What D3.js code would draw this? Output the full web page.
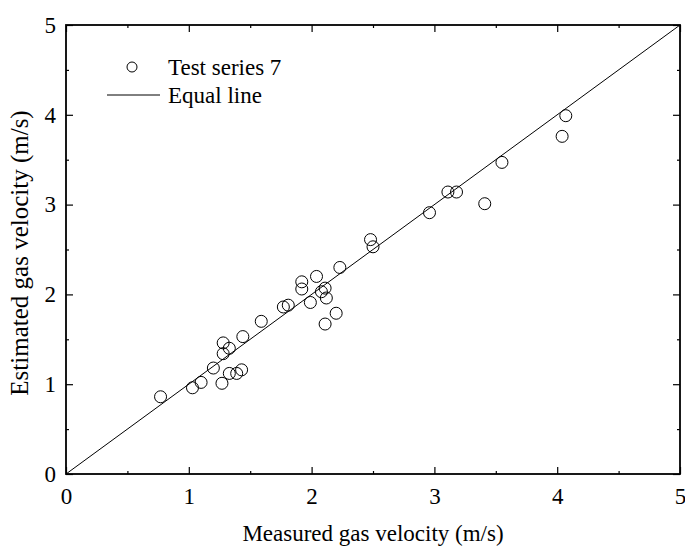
<!DOCTYPE html>
<html lang="en">
<head>
<meta charset="UTF-8">
<title>Measured vs estimated gas velocity</title>
<style>
  body { margin: 0; background: #fff; }
  text { font-family: "Liberation Serif", "Times New Roman", serif; fill: #000; }
</style>
</head>
<body>
<div id="chart"></div>
<script src="https://d3js.org/d3.v7.min.js"></script>
<script>
// data
var measured = [0.77, 1.03, 1.10, 1.20, 1.27, 1.28, 1.28, 1.33, 1.33, 1.39, 1.43, 1.44,
    1.59, 1.77, 1.81, 1.92, 1.92, 1.99, 2.04, 2.08, 2.11, 2.12, 2.20, 2.11, 2.23,
    2.48, 2.50, 2.96, 3.11, 3.18, 3.41, 3.55, 4.04, 4.07];
var estimated = [0.86, 0.96, 1.02, 1.18, 1.01, 1.34, 1.46, 1.40, 1.12, 1.12, 1.16, 1.53,
    1.70, 1.86, 1.88, 2.14, 2.06, 1.91, 2.20, 2.03, 2.07, 1.96, 1.79, 1.67, 2.30,
    2.61, 2.53, 2.91, 3.14, 3.14, 3.01, 3.47, 3.76, 3.99];
var equalLine = [0, 5];
var tickValues = [0, 1, 2, 3, 4, 5];
var minorTicks = [0.5, 1.5, 2.5, 3.5, 4.5];
var seriesName = "Test series 7";
var lineName = "Equal line";

var W = 685, H = 548;
var margin = {top: 25, right: 5, bottom: 74, left: 66};
var w = W - margin.left - margin.right, h = H - margin.top - margin.bottom;
var fs = "23px";

var svg = d3.select("#chart").append("svg")
    .attr("width", W).attr("height", H);
var g = svg.append("g")
    .attr("transform", "translate(" + margin.left + "," + margin.top + ")");

var x = d3.scaleLinear().domain([0, 5]).range([0, w]);
var y = d3.scaleLinear().domain([0, 5]).range([h, 0]);

// axes, ticks pointing inward
function styleAxis(sel, showLabels) {
    sel.select(".domain").remove();
    sel.selectAll("line").attr("stroke", "#000").attr("stroke-width", 1.2);
    sel.selectAll("text").style("font-size", fs);
    if (!showLabels) sel.selectAll("text").remove();
}

var xb = g.append("g").attr("transform", "translate(0," + h + ")")
    .call(d3.axisBottom(x).tickValues(tickValues).tickSizeInner(-7).tickSizeOuter(0).tickPadding(14).tickFormat(d3.format("d")));
styleAxis(xb, true);
var xbm = g.append("g").attr("transform", "translate(0," + h + ")")
    .call(d3.axisBottom(x).tickValues(minorTicks).tickSizeInner(-3).tickSizeOuter(0).tickFormat(""));
styleAxis(xbm, false);

var xt = g.append("g")
    .call(d3.axisTop(x).tickValues(tickValues).tickSizeInner(-7).tickSizeOuter(0).tickFormat(""));
styleAxis(xt, false);
var xtm = g.append("g")
    .call(d3.axisTop(x).tickValues(minorTicks).tickSizeInner(-3).tickSizeOuter(0).tickFormat(""));
styleAxis(xtm, false);

var yl = g.append("g")
    .call(d3.axisLeft(y).tickValues(tickValues).tickSizeInner(-7).tickSizeOuter(0).tickPadding(10).tickFormat(d3.format("d")));
styleAxis(yl, true);
var ylm = g.append("g")
    .call(d3.axisLeft(y).tickValues(minorTicks).tickSizeInner(-3).tickSizeOuter(0).tickFormat(""));
styleAxis(ylm, false);

var yr = g.append("g").attr("transform", "translate(" + w + ",0)")
    .call(d3.axisRight(y).tickValues(tickValues).tickSizeInner(-7).tickSizeOuter(0).tickFormat(""));
styleAxis(yr, false);
var yrm = g.append("g").attr("transform", "translate(" + w + ",0)")
    .call(d3.axisRight(y).tickValues(minorTicks).tickSizeInner(-3).tickSizeOuter(0).tickFormat(""));
styleAxis(yrm, false);

// frame
g.append("rect")
    .attr("width", w).attr("height", h)
    .attr("fill", "none").attr("stroke", "#000").attr("stroke-width", 1.8);

// equal line
g.append("line")
    .attr("x1", x(equalLine[0])).attr("y1", y(equalLine[0]))
    .attr("x2", x(equalLine[1])).attr("y2", y(equalLine[1]))
    .attr("stroke", "#000").attr("stroke-width", 1);

// points
var pts = measured.map(function (m, i) { return {x: m, y: estimated[i]}; });
g.append("g").selectAll("circle")
    .data(pts).enter()
    .append("circle")
    .attr("cx", function (d) { return x(d.x); })
    .attr("cy", function (d) { return y(d.y); })
    .attr("r", 6)
    .attr("fill", "none")
    .attr("stroke", "#000")
    .attr("stroke-width", 1);

// legend
var lg = svg.append("g");
lg.append("circle").attr("cx", 132).attr("cy", 67).attr("r", 5)
    .attr("fill", "none").attr("stroke", "#000").attr("stroke-width", 1);
lg.append("text").attr("x", 168).attr("y", 67).attr("dy", "0.35em")
    .style("font-size", fs).text(seriesName);
lg.append("line").attr("x1", 107).attr("x2", 160).attr("y1", 95).attr("y2", 95)
    .attr("stroke", "#000").attr("stroke-width", 1);
lg.append("text").attr("x", 168).attr("y", 95).attr("dy", "0.35em")
    .style("font-size", fs).text(lineName);

// axis titles
svg.append("text")
    .attr("x", margin.left + w / 2).attr("y", 541)
    .attr("text-anchor", "middle")
    .style("font-size", fs)
    .text("Measured gas velocity (m/s)");
svg.append("text")
    .attr("transform", "translate(28,253) rotate(-90)")
    .attr("text-anchor", "middle")
    .style("font-size", "25px")
    .text("Estimated gas velocity (m/s)");
</script>
</body>
</html>
